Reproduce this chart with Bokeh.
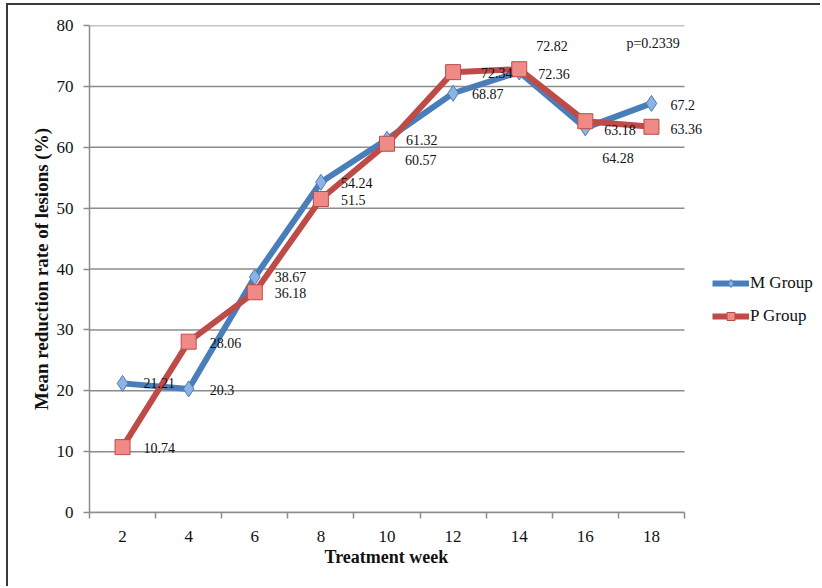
from bokeh.plotting import figure
from bokeh.models import FixedTicker, Legend, LegendItem, Label, LabelSet, ColumnDataSource, Title
from bokeh.embed import file_html
from bokeh.resources import INLINE

# Treatment weeks and mean reduction rate of lesions (%) per group
weeks = [2, 4, 6, 8, 10, 12, 14, 16, 18]
m_group = [21.21, 20.3, 38.67, 54.24, 61.32, 68.87, 72.36, 63.18, 67.2]
p_group = [10.74, 28.06, 36.18, 51.5, 60.57, 72.34, 72.82, 64.28, 63.36]
m_name = "M Group"
p_name = "P Group"
p_value_text = "p=0.2339"
x_title = "Treatment week"
y_title = "Mean reduction rate of lesions (%)"
y_ticks = [0, 10, 20, 30, 40, 50, 60, 70, 80]

# label nudges (screen pixels, right / up) so the value texts do not collide
m_dx = [21, 21, 20, 20, 19, 19, 19, 19, 19]
m_dy = [0, -1, 0, -1, -1, -1, -2, -2, -2]
p_dx = [21, 21, 20, 20, 18, 28, 17, 17, 19]
p_dy = [-1, -1, -1, -1, -16, -1, 23, -37, -2]

SERIF = "Liberation Serif"
BLUE = "#4a7ebb"
BLUE_FILL = "#8db3e2"
RED = "#be4b48"
RED_FILL = "#f08a86"
GRID = "#8c8c8c"

# category bands: each week occupies a band of width 2 centred on it
x_lo = weeks[0] - 1
x_hi = weeks[-1] + 1
plot_w = 595            # pixel width of the week bands
frame_w = 733           # frame runs on to the right edge so legend and labels fit
x_end = x_lo + (x_hi - x_lo) * frame_w / plot_w

p = figure(
    width=814, height=583,
    x_range=(x_lo, x_end), y_range=(0, 80),
    min_border_left=81, min_border_right=0,
    min_border_top=20, min_border_bottom=76,
    output_backend="svg", toolbar_location=None,
)
p.styles = {
    "margin-left": "6px", "margin-top": "3px",
    "border-left": "2px solid #3a3a3a", "border-top": "2px solid #3a3a3a",
}
p.outline_line_color = None
p.background_fill_color = "white"
p.border_fill_color = "white"

# horizontal gridlines limited to the week bands
p.xgrid.grid_line_color = None
p.ygrid.grid_line_color = None
p.segment(x0=[x_lo] * len(y_ticks), x1=[x_hi] * len(y_ticks), y0=y_ticks, y1=y_ticks,
          line_color=GRID, line_width=1.5)

# axes
p.yaxis.ticker = FixedTicker(ticks=y_ticks)
p.xaxis.ticker = FixedTicker(ticks=weeks, minor_ticks=[w - 1 for w in weeks] + [x_hi])
p.xaxis.bounds = (x_lo, x_hi)
for ax in (p.xaxis[0], p.yaxis[0]):
    ax.axis_line_color = GRID
    ax.axis_line_width = 1.5
    ax.major_tick_line_color = GRID
    ax.minor_tick_line_color = GRID
    ax.major_tick_line_width = 1.5
    ax.minor_tick_line_width = 1.5
    ax.major_label_text_font = SERIF
    ax.major_label_text_font_size = "17px"
    ax.major_label_text_color = "#111111"
    ax.axis_label_text_font = SERIF
    ax.axis_label_text_font_style = "bold"
    ax.axis_label_text_font_size = "19px"
    ax.axis_label_text_color = "#111111"

p.yaxis.major_tick_out = 6
p.yaxis.major_tick_in = 0
p.yaxis.minor_tick_out = 0
p.yaxis.minor_tick_in = 0
p.yaxis.major_label_standoff = 10
p.yaxis.axis_label = y_title
p.yaxis.axis_label_standoff = 2

p.xaxis.major_tick_out = 0
p.xaxis.major_tick_in = 0
p.xaxis.minor_tick_out = 6
p.xaxis.minor_tick_in = 0
p.xaxis.major_label_standoff = 12

# x title centred under the week bands rather than the whole frame
p.add_layout(Title(text=x_title, align="left", offset=235, standoff=0,
                   text_font=SERIF, text_font_style="bold", text_font_size="18px",
                   text_color="#111111"), "below")

# series
m_line = p.line(weeks, m_group, line_width=6, line_color=BLUE, line_join="round")
m_mark = p.scatter(weeks, m_group, marker="diamond", size=16,
                   fill_color=BLUE_FILL, line_color=BLUE, line_width=1)
p_line = p.line(weeks, p_group, line_width=6, line_color=RED, line_join="round")
p_mark = p.scatter(weeks, p_group, marker="square", size=15,
                   fill_color=RED_FILL, line_color=RED, line_width=1)

# value labels
m_src = ColumnDataSource(dict(x=weeks, y=m_group, t=[f"{v:g}" for v in m_group], dx=m_dx, dy=m_dy))
p_src = ColumnDataSource(dict(x=weeks, y=p_group, t=[f"{v:g}" for v in p_group], dx=p_dx, dy=p_dy))
for src in (m_src, p_src):
    p.add_layout(LabelSet(x="x", y="y", text="t", x_offset="dx", y_offset="dy", source=src,
                          text_font=SERIF, text_font_size="14px", text_color="#111111",
                          text_align="left", text_baseline="middle"))

p.add_layout(Label(x=18.86, y=77.0, text=p_value_text, text_font=SERIF,
                   text_font_size="14px", text_color="#111111",
                   text_align="right", text_baseline="middle"))

legend = Legend(
    items=[LegendItem(label=m_name, renderers=[m_line, m_mark]),
           LegendItem(label=p_name, renderers=[p_line, p_mark])],
    location=(623, 186),
    orientation="vertical",
    glyph_width=37, glyph_height=20, label_height=20,
    label_standoff=1, spacing=13, padding=0, margin=0,
    label_text_font=SERIF, label_text_font_size="17px", label_text_color="#111111",
    border_line_color=None, background_fill_alpha=0,
)
p.add_layout(legend)

open("out.html", "w").write(file_html(p, INLINE))
